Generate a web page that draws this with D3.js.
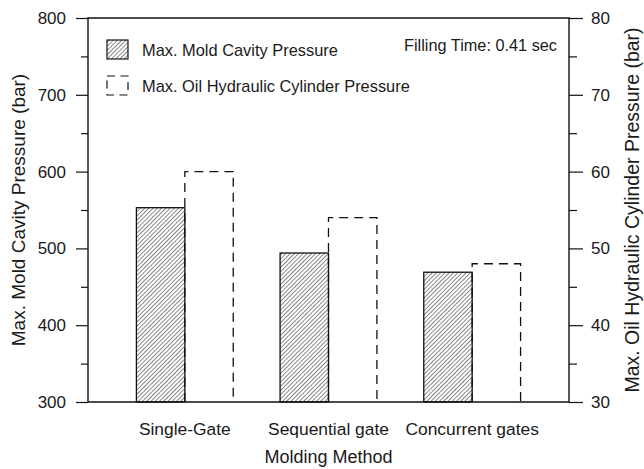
<!DOCTYPE html>
<html><head><meta charset="utf-8">
<script src="https://cdn.jsdelivr.net/npm/d3@7"></script>
<style>body{margin:0;background:#fff}svg{display:block}text{font-family:Arial,"Liberation Sans",sans-serif;fill:#1a1a1a}</style>
</head><body>
<script>
const categories = ["Single-Gate", "Sequential gate", "Concurrent gates"];
const moldCavity = [553, 494, 469];
const oilCylinder = [60, 54, 48];
const leftTicks = [300, 400, 500, 600, 700, 800];
const rightTicks = [30, 40, 50, 60, 70, 80];
const seriesNames = ["Max. Mold Cavity Pressure", "Max. Oil Hydraulic Cylinder Pressure"];

const W = 644, H = 469;
const m = {l: 88, r: 75, t: 18, b: 67};
const svg = d3.select("body").append("svg").attr("width", W).attr("height", H);
const defs = svg.append("defs");
const pat = defs.append("pattern").attr("id","hatch").attr("patternUnits","userSpaceOnUse")
  .attr("width",3).attr("height",3).attr("patternTransform","rotate(45)");
pat.append("rect").attr("width",3).attr("height",3).attr("fill","#fff");
pat.append("line").attr("x1",0).attr("y1",0).attr("x2",0).attr("y2",3).attr("stroke","#222").attr("stroke-width",1.1);

const x0 = m.l, x1 = W - m.r, yTop = m.t, yBot = H - m.b;
const x = d3.scaleBand().domain(categories).range([x0, x1]).paddingInner(0.326).paddingOuter(0.337);
const xs = d3.scaleBand().domain([0,1]).range([0, x.bandwidth()]);
const yL = d3.scaleLinear().domain([300, 800]).range([yBot, yTop]);
const yR = d3.scaleLinear().domain([30, 80]).range([yBot, yTop]);

// bars
const g = svg.append("g");
g.selectAll("rect.mold").data(categories).join("rect").attr("class","mold")
  .attr("x", (c)=>x(c)+xs(0)).attr("width", xs.bandwidth())
  .attr("y", (c,i)=>yL(moldCavity[i])).attr("height",(c,i)=>yBot-yL(moldCavity[i]))
  .attr("fill","url(#hatch)").attr("stroke","#111").attr("stroke-width",1.3);
g.selectAll("path.oil").data(categories).join("path").attr("class","oil")
  .attr("d",(c,i)=>{const a=x(c)+xs(1), b=a+xs.bandwidth(), t=yR(oilCylinder[i]);
     return `M${a},${yBot}V${t}H${b}V${yBot}`;})
  .attr("fill","none").attr("stroke","#111").attr("stroke-width",1.3).attr("stroke-dasharray","9,6");

// axes
const axL = d3.axisLeft(yL).tickValues(leftTicks).tickSize(12).tickPadding(10);
svg.append("g").attr("transform",`translate(${x0},0)`).call(axL);
const axLm = d3.axisLeft(yL).tickValues(d3.range(350,800,100)).tickSize(7).tickFormat("");
svg.append("g").attr("transform",`translate(${x0},0)`).call(axLm);
const axR = d3.axisRight(yR).tickValues(rightTicks).tickSize(14).tickPadding(8);
svg.append("g").attr("transform",`translate(${x1},0)`).call(axR);
const axRm = d3.axisRight(yR).tickValues(d3.range(35,80,10)).tickSize(8).tickFormat("");
svg.append("g").attr("transform",`translate(${x1},0)`).call(axRm);
svg.selectAll(".domain").remove();
svg.selectAll(".tick line").attr("stroke","#111").attr("stroke-width",1.2);
svg.selectAll(".tick text").attr("font-size",17).attr("fill","#1a1a1a").style("font-family","Arial,'Liberation Sans',sans-serif");
// frame
svg.append("path").attr("d",`M${x0},${yBot}V${yTop}H${x1}V${yBot}H${x0}`).attr("fill","none").attr("stroke","#111").attr("stroke-width",1.4);

// x labels
svg.append("g").selectAll("text").data(categories).join("text")
  .attr("x",c=>x(c)+x.bandwidth()/2).attr("y",435).attr("text-anchor","middle").attr("font-size",17.4).text(c=>c);
svg.append("text").attr("x",(x0+x1)/2).attr("y",463).attr("text-anchor","middle").attr("font-size",18).text("Molding Method");
svg.append("text").attr("transform",`translate(25,${(yTop+yBot)/2}) rotate(-90)`).attr("text-anchor","middle").attr("font-size",19).text("Max. Mold Cavity Pressure (bar)");
svg.append("text").attr("transform",`translate(639,${(yTop+yBot)/2}) rotate(-90)`).attr("text-anchor","middle").attr("font-size",19.5).text("Max. Oil Hydraulic Cylinder Pressure (bar)");

// legend
svg.append("rect").attr("x",107).attr("y",40).attr("width",21).attr("height",19).attr("fill","url(#hatch)").attr("stroke","#111").attr("stroke-width",1.2);
svg.append("rect").attr("x",107).attr("y",76).attr("width",21).attr("height",19).attr("fill","none").attr("stroke","#111").attr("stroke-width",1.2).attr("stroke-dasharray","8,5.5");
svg.append("text").attr("x",142).attr("y",56).attr("font-size",16.4).text(seriesNames[0]);
svg.append("text").attr("x",142).attr("y",92).attr("font-size",16.4).text(seriesNames[1]);
svg.append("text").attr("x",557).attr("y",51).attr("text-anchor","end").attr("font-size",16.3).text("Filling Time: 0.41 sec");
</script>
</body></html>
